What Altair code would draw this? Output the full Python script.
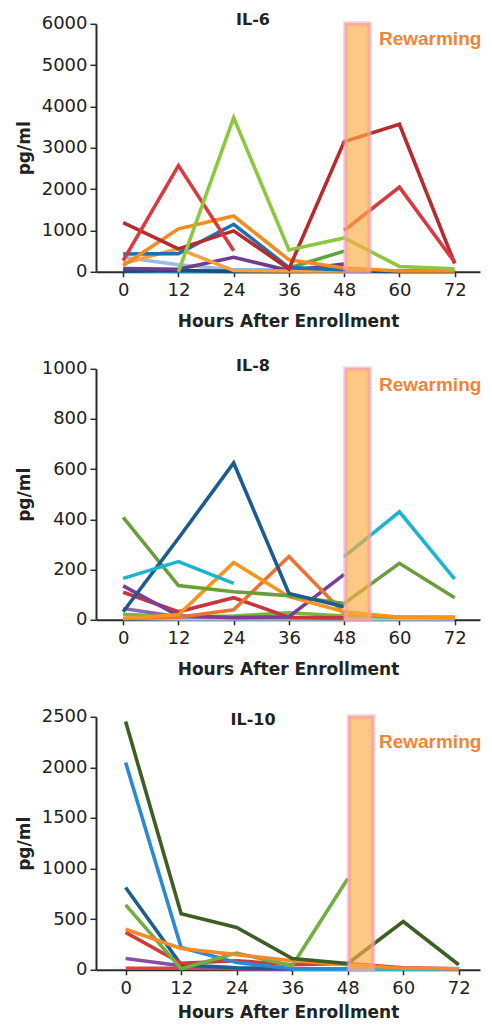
import altair as alt
import pandas as pd

HOURS = [0, 12, 24, 36, 48, 60, 72]
X_TITLE = "Hours After Enrollment"
Y_TITLE = "pg/ml"
PANEL_TITLES = ["IL-6", "IL-8", "IL-10"]
NOTE = "Rewarming"
REWARM_START = 48.3
REWARM_END = 53.5

# ---- IL-6 ----
il6_names = ["lightblue", "cyan", "navy", "purple", "orange2", "medgreen", "blue",
             "orange", "darkred", "red", "lightgreen"]
il6_colors = ["#9DB9E2", "#27AAE1", "#14517F", "#6E3C92", "#F7A040", "#5FA33E", "#1F6FB0",
              "#F58A1F", "#B72B2E", "#D83A3F", "#8DC63F"]
il6_values = [
    [350, 170, 50, 40, 30, 20, 20],
    [30, 10, 10, 10, 10, 10, 10],
    [20, 30, 10, 10, 20, 10, 10],
    [80, 60, 350, 30, 190, None, None],
    [200, 560, 30, 20, 20, None, None],
    [None, None, None, 90, 500, None, None],
    [430, 440, 1150, 100, 50, None, None],
    [150, 1040, 1350, 290, 90, 20, 20],
    [1190, 555, 990, 70, 3150, 3570, 200],
    [270, 2570, 510, None, 1000, 2050, 230],
    [None, 0, 3730, 530, 820, 130, 70],
]

# ---- IL-8 ----
il8_names = ["lightblue", "lightgreen", "lightpurple", "red", "purple", "orange2",
             "orange", "olive", "navy", "cyan"]
il8_colors = ["#A9C6E8", "#77B843", "#8E67B0", "#C8363D", "#7A3E96", "#EB7330",
              "#F7941D", "#6A9E3A", "#1B5C8E", "#1CB5D0"]
il8_values = [
    [5, 3, 3, 3, 3, 3, 3],
    [22, 12, 15, 28, 15, 10, 8],
    [45, 12, 10, 8, 5, None, None],
    [110, 32, 88, 10, 8, None, None],
    [135, 16, 8, 12, 181, None, None],
    [5, 10, 40, 252, 25, 10, 10],
    [5, 20, 228, 92, 32, 10, 10],
    [408, 136, 112, 96, 65, 225, 88],
    [32, 325, 625, 105, 52, None, None],
    [165, 232, 145, None, 252, 430, 162],
]

# ---- IL-10 ----
il10_names = ["redflat", "cyan", "purple", "navy", "red", "blue", "green", "orange", "darkgreen"]
il10_colors = ["#E04040", "#25B8D5", "#8250A6", "#1B5E8F", "#D23A3A", "#2A8AD1",
               "#72AE43", "#F58A2A", "#3D5F26"]
il10_values = [
    [15, 15, 10, 5, 5, 5, 5],
    [None, None, None, 5, 5, 5, 5],
    [112, 40, 10, 5, None, None, None],
    [813, 50, 20, 10, None, None, None],
    [370, 65, 90, 50, 62, 20, 10],
    [2048, 220, 72, 10, 10, None, None],
    [642, 10, 165, 40, 900, None, None],
    [400, 210, 150, 90, 50, 15, 10],
    [2453, 553, 418, 112, 62, 477, 50],
]

FONT = "DejaVu Sans"
NOTE_FONT = "Liberation Sans"
AX = "#2b2b2b"


def make_panel(title, names, colors, values, ymax, ystep, height, xdomain, title_y, note_y, xt_y):
    rows = []
    keys = [f"{title}:{n}" for n in names]
    for k, vals in zip(keys, values):
        seg = 0
        for h, v in zip(HOURS, vals):
            if v is None:
                seg += 1
                continue
            rows.append({"hour": h, "value": v, "series": k, "seg": f"{k}-{seg}"})
    df = pd.DataFrame(rows)

    x = alt.X("hour:Q",
              scale=alt.Scale(domain=xdomain, nice=False, zero=False),
              axis=alt.Axis(values=HOURS, title=X_TITLE, tickSize=5, labelPadding=5,
                            titleY=xt_y, titleBaseline="middle"))
    y = alt.Y("value:Q",
              scale=alt.Scale(domain=[0, ymax], nice=False),
              axis=alt.Axis(values=list(range(0, ymax + 1, ystep)), title=Y_TITLE, format="d",
                            tickSize=6, labelPadding=3, titleX=-72, titleY=height / 2,
                            titleBaseline="middle", titleAlign="center"))

    lines = alt.Chart(df).mark_line(strokeWidth=3.6, strokeJoin="miter").encode(
        x=x, y=y,
        color=alt.Color("series:N", scale=alt.Scale(domain=keys, range=colors), legend=None),
        detail="seg:N",
        order="hour:Q",
    )

    bar_df = pd.DataFrame({"start": [REWARM_START], "end": [REWARM_END], "top": [ymax], "bottom": [0]})
    glow = alt.Chart(bar_df).mark_rect(fillOpacity=0, stroke="#F3A0BA",
                                       strokeWidth=5, strokeOpacity=0.45).encode(
        x="start:Q", x2="end:Q", y="top:Q", y2="bottom:Q")
    bar = alt.Chart(bar_df).mark_rect(fill="#FCAC45", fillOpacity=0.66, stroke="#F29CB6",
                                      strokeWidth=2, strokeOpacity=0.7).encode(
        x="start:Q", x2="end:Q", y="top:Q", y2="bottom:Q")

    ttl = alt.Chart(pd.DataFrame({"t": [title]})).mark_text(
        font=FONT, fontSize=16, fontWeight="bold", color="#222", align="center", baseline="middle"
    ).encode(text="t:N", x=alt.value(157), y=alt.value(title_y))

    note = alt.Chart(pd.DataFrame({"t": [NOTE]})).mark_text(
        font=NOTE_FONT, fontSize=19, fontWeight="bold", color="#F08538", align="left", baseline="middle"
    ).encode(text="t:N", x=alt.value(283), y=alt.value(note_y))

    return alt.layer(lines, glow, bar, ttl, note).properties(width=384, height=height)


p1 = make_panel(PANEL_TITLES[0], il6_names, il6_colors, il6_values, 6000, 1000, 248,
                [-5.9, 77.5], -4, 15.5, 50)
p2 = make_panel(PANEL_TITLES[1], il8_names, il8_colors, il8_values, 1000, 200, 251,
                [-5.9, 77.5], -3, 16, 50)
p3 = make_panel(PANEL_TITLES[2], il10_names, il10_colors, il10_values, 2500, 500, 253,
                [-6.4, 76.6], 3, 25.5, 43)

chart = alt.vconcat(p1, p2, p3, spacing=97, bounds="flush").resolve_scale(
    color="independent"
).properties(
    padding={"left": 7, "top": 3.8, "right": 0, "bottom": 0}
).configure_axis(
    domainColor=AX, domainWidth=2, tickColor=AX, tickWidth=1.5, grid=False,
    labelFont=FONT, labelFontSize=18, labelColor="#222",
    titleFont=FONT, titleFontSize=17, titleFontWeight="bold", titleColor="#222",
).configure_view(stroke=None)

chart.save("out.html", embed_options={"renderer": "svg", "actions": False})
